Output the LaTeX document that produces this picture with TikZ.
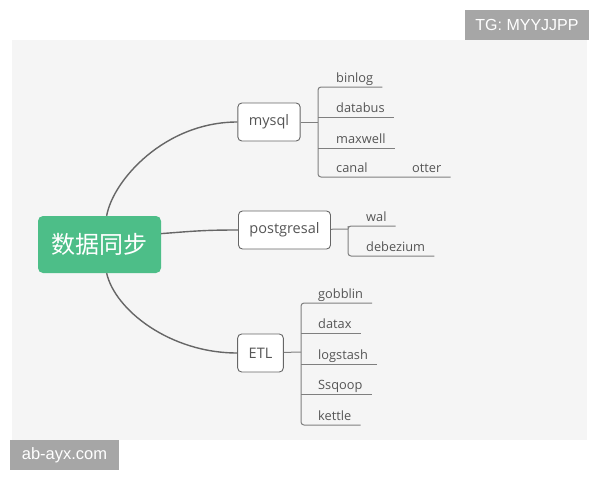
\documentclass[tikz,border=0pt]{standalone}
\usepackage{fontspec}
\usepackage{tikz}
\setmainfont{Open Sans}
\newfontfamily\cjk{Noto Sans CJK SC}
\newfontfamily\wmfont{Liberation Sans}
\definecolor{panelgray}{HTML}{F5F5F5}
\definecolor{textgray}{HTML}{555555}
\definecolor{curvegray}{HTML}{666666}
\definecolor{twiggray}{HTML}{7F7F7F}
\definecolor{rootgreen}{HTML}{4DBE88}
\definecolor{wmgray}{HTML}{A6A6A6}

\begin{document}
\begin{tikzpicture}[x=1pt, y=-1pt,
  topic/.style={draw=curvegray, fill=white, rounded corners=4pt, line width=0.9pt, minimum height=38pt, inner xsep=11pt, text=textgray, font=\fontsize{14.5}{16}\selectfont},
  leaf/.style={anchor=south west, inner xsep=9pt, inner ysep=1.5pt, text height=9pt, text depth=3pt, text=textgray, font=\fontsize{12.8}{14}\selectfont},
  trunk/.style={draw=curvegray, line width=1.4pt},
  twig/.style={draw=twiggray, line width=1pt, rounded corners=3pt},
  wmbox/.style={fill=wmgray, text=white, minimum height=30pt, inner sep=0pt, font=\wmfont\fontsize{16}{18}\selectfont},]
  \useasboundingbox (0,0) rectangle (600,480);
  \fill[panelgray] (12,40) rectangle (587,440);
  \node[wmbox, minimum width=124pt] (tg) at (527,25) {TG: MYYJJPP};
  \node[wmbox, minimum width=109pt, font=\wmfont\fontsize{16.5}{18}\selectfont] (site) at (64.5,455) {ab-ayx.com};
  % root and topics
  \node[fill=rootgreen, rounded corners=5pt, minimum width=123pt, minimum height=57pt, text=white, font=\cjk\fontsize{24}{28}\selectfont] (sync) at (99.5,244.5) {数据同步};
  \node[topic] (mysql) at (269,122) {mysql};
  \node[topic] (pg) at (284.5,230) {postgresal};
  \node[topic] (etl) at (260.5,353) {ETL};
  \draw[trunk] (sync.76) .. controls (113,180) and (165,122) .. (mysql.west);
  \draw[trunk] (sync.10) .. controls (195,231) and (205,230) .. (pg.west);
  \draw[trunk] (sync.-76) .. controls (115,310) and (170,353) .. (etl.west);
  % mysql
  \coordinate (mysql-fork) at (318,122);
  \node[leaf] (binlog) at (327,87) {binlog};
  \node[leaf] (databus) at (327,117) {databus};
  \node[leaf] (maxwell) at (327,148) {maxwell};
  \node[leaf] (canal) at (327,177) {canal};
  \node[leaf] (otter) at (403,177) {otter};
  \draw[twig] (mysql) -- (mysql-fork);
  \draw[twig] (binlog.south east) -| (mysql-fork) |- (otter.south east);
  \draw[twig] (databus.south east) -- (databus.south east -| mysql-fork);
  \draw[twig] (maxwell.south east) -- (maxwell.south east -| mysql-fork);
  % postgresal
  \coordinate (pg-fork) at (348,229);
  \node[leaf] (wal) at (357,226) {wal};
  \node[leaf] (debezium) at (357,256) {debezium};
  \draw[twig] (pg) -- (pg-fork);
  \draw[twig] (wal.south east) -| (pg-fork) |- (debezium.south east);
  % ETL
  \coordinate (etl-fork) at (301,352);
  \node[leaf] (gobblin) at (309,303) {gobblin};
  \node[leaf] (datax) at (309,333) {datax};
  \node[leaf] (logstash) at (309,364) {logstash};
  \node[leaf] (ssqoop) at (309,394) {Ssqoop};
  \node[leaf] (kettle) at (309,425) {kettle};
  \draw[twig] (etl) -- (etl-fork);
  \draw[twig] (gobblin.south east) -| (etl-fork) |- (kettle.south east);
  \foreach \leafname in {datax, logstash, ssqoop}
    \draw[twig] (\leafname.south east) -- (\leafname.south east -| etl-fork);
\end{tikzpicture}
\end{document}
